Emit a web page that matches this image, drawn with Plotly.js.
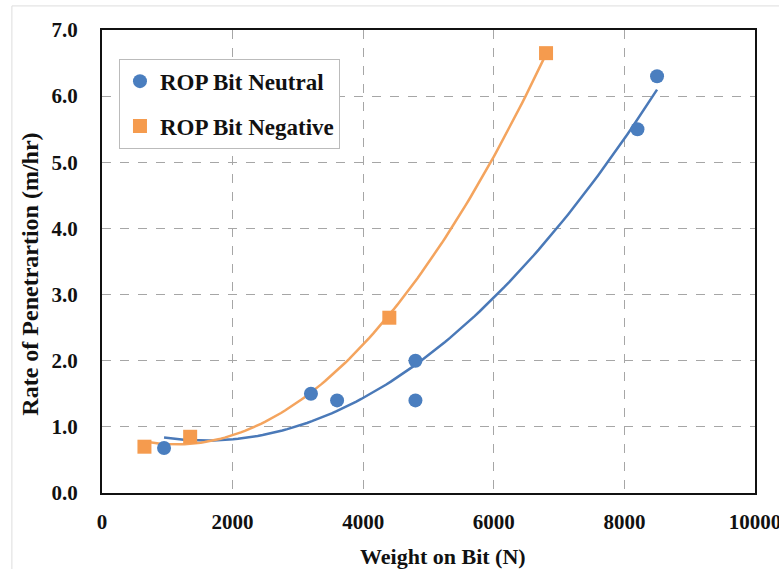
<!DOCTYPE html>
<html><head><meta charset="utf-8">
<script src="https://cdn.plot.ly/plotly-3.0.1.min.js"></script>
<style>html,body{margin:0;padding:0;background:#fff}#chart{width:779px;height:569px}</style>
</head><body><div id="chart"></div>
<script>
// Data
const neutralWOB = [950, 3200, 3600, 4800, 4800, 8200, 8500];
const neutralROP = [0.68, 1.5, 1.4, 2.0, 1.4, 5.5, 6.3];
const negativeWOB = [650, 1350, 4400, 6800];
const negativeROP = [0.70, 0.85, 2.65, 6.65];
const xTicks = [0, 2000, 4000, 6000, 8000, 10000];
const yTicks = [0, 1, 2, 3, 4, 5, 6, 7];

// Excel-style 2nd order polynomial trendline (least squares fit of the data)
function polyFit2(xs, ys) {
  let n = xs.length, s = [0,0,0,0,0], t = [0,0,0];
  for (let i = 0; i < n; i++) {
    const x = xs[i] / 1000, y = ys[i];
    for (let k = 0; k < 5; k++) s[k] += Math.pow(x, k);
    for (let k = 0; k < 3; k++) t[k] += Math.pow(x, k) * y;
  }
  const A = [[s[0], s[1], s[2], t[0]], [s[1], s[2], s[3], t[1]], [s[2], s[3], s[4], t[2]]];
  for (let i = 0; i < 3; i++) {
    for (let j = i + 1; j < 3; j++) {
      const f = A[j][i] / A[i][i];
      for (let k = i; k < 4; k++) A[j][k] -= f * A[i][k];
    }
  }
  const c = [0, 0, 0];
  for (let i = 2; i >= 0; i--) {
    let v = A[i][3];
    for (let k = i + 1; k < 3; k++) v -= A[i][k] * c[k];
    c[i] = v / A[i][i];
  }
  return c;
}
function trend(xs, ys) {
  const c = polyFit2(xs, ys);
  const lo = Math.min(...xs), hi = Math.max(...xs);
  const tx = [], ty = [];
  for (let i = 0; i <= 100; i++) {
    const x = lo + (hi - lo) * i / 100, u = x / 1000;
    tx.push(x); ty.push(c[0] + c[1] * u + c[2] * u * u);
  }
  return [tx, ty];
}
const blue = '#4a7ebf', orange = '#f59b4e';
const [ntx, nty] = trend(neutralWOB, neutralROP);
const [gtx, gty] = trend(negativeWOB, negativeROP);

const data = [
  {x: ntx, y: nty, mode: 'lines', line: {color: '#4a79b8', width: 2.5}, showlegend: false, hoverinfo: 'skip'},
  {x: gtx, y: gty, mode: 'lines', line: {color: '#f4a45e', width: 2.5}, showlegend: false, hoverinfo: 'skip'},
  {x: neutralWOB, y: neutralROP, mode: 'markers', name: 'ROP Bit Neutral', legendgroup: 'a',
   marker: {symbol: 'circle', size: 14, color: blue}},
  {x: negativeWOB, y: negativeROP, mode: 'markers', name: 'ROP Bit Negative', legendgroup: 'b',
   marker: {symbol: 'square', size: 14, color: orange}}
];
const serif = 'Liberation Serif, Times New Roman, serif';
const layout = {
  width: 779, height: 569,
  margin: {l: 102, r: 24, t: 30, b: 76},
  paper_bgcolor: '#fff', plot_bgcolor: '#fff',
  font: {family: serif, color: '#111'},
  showlegend: true,
  legend: {x: 0.026, y: 0.938, xanchor: 'left', yanchor: 'top',
    bordercolor: '#bbbbbb', borderwidth: 1, bgcolor: '#fff',
    font: {family: serif, size: 23, color: '#111', weight: 'bold'},
    traceorder: 'grouped', tracegroupgap: 12, itemwidth: 30, entrywidth: 200},
  xaxis: {range: [0, 10000], tickvals: xTicks, ticktext: xTicks.map(String),
    showgrid: true, gridcolor: '#a6a6a6', griddash: 'dash', gridwidth: 1,
    zeroline: false, showline: true, linecolor: '#111', linewidth: 2, mirror: true,
    ticks: '', tickfont: {family: serif, size: 21, weight: 'bold'}, ticklabelstandoff: 9,
    ticklabeloverflow: 'allow'},
  yaxis: {range: [0, 7], tickvals: yTicks, ticktext: yTicks.map(v => v.toFixed(1)),
    showgrid: true, gridcolor: '#a6a6a6', griddash: 'dash', gridwidth: 1,
    zeroline: false, showline: true, linecolor: '#111', linewidth: 2, mirror: true,
    ticks: '', tickfont: {family: serif, size: 21, weight: 'bold'}, ticklabelstandoff: 18,
    ticklabeloverflow: 'allow'},
  annotations: [
    {text: 'Weight on Bit (N)', xref: 'paper', yref: 'paper', x: 0.522, y: -0.137,
     xanchor: 'center', yanchor: 'middle', showarrow: false,
     font: {family: serif, size: 22, weight: 'bold', color: '#111'}},
    {text: 'Rate of Penetrartion (m/hr)', xref: 'paper', yref: 'paper', x: -0.11, y: 0.472,
     xanchor: 'center', yanchor: 'middle', showarrow: false, textangle: -90,
     font: {family: serif, size: 24, weight: 'bold', color: '#111'}}
  ],
  shapes: [{type: 'rect', xref: 'paper', yref: 'paper', x0: -0.138, x1: 1.2, y0: -0.2, y1: 1.052,
    line: {color: '#dddddd', width: 1}, layer: 'below'}]
};
Plotly.newPlot('chart', data, layout, {displayModeBar: false, staticPlot: true});
</script></body></html>
